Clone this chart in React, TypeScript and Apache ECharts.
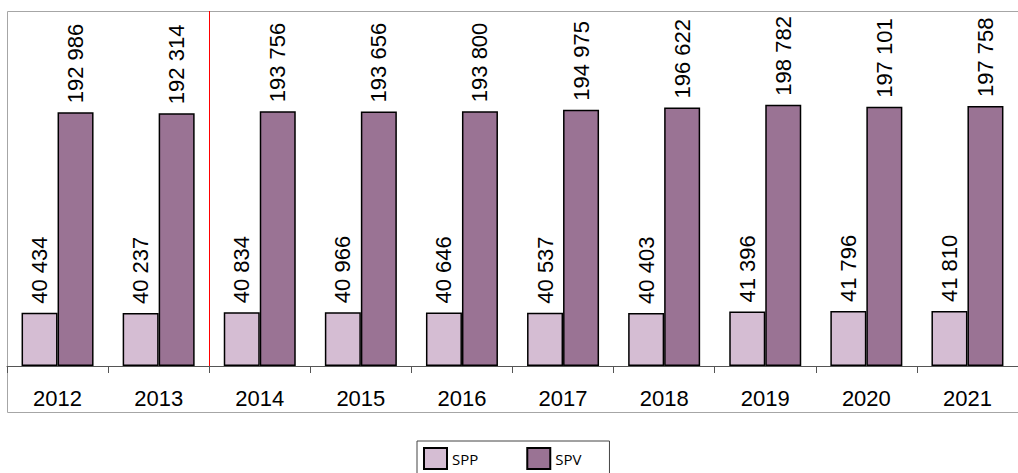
import React, { useEffect, useRef } from "react";
import * as echarts from "echarts";

const years = ["2012", "2013", "2014", "2015", "2016", "2017", "2018", "2019", "2020", "2021"];
const spp = [40434, 40237, 40834, 40966, 40646, 40537, 40403, 41396, 41796, 41810];
const spv = [192986, 192314, 193756, 193656, 193800, 194975, 196622, 198782, 197101, 197758];

const fmt = (v: number) => String(v).replace(/\B(?=(\d{3})+(?!\d))/g, " ");

export default function App() {
  const ref = useRef<HTMLDivElement>(null);
  useEffect(() => {
    const chart = echarts.init(ref.current!, null, { renderer: "svg" });
    const label = {
      show: true,
      position: "top" as const,
      rotate: 90,
      align: "left" as const,
      verticalAlign: "middle" as const,
      distance: 9,
      fontSize: 22,
      fontFamily: "Liberation Sans, Arial",
      color: "#000",
      formatter: (p: any) => fmt(p.value),
    };
    chart.setOption({
      animation: false,
      backgroundColor: "#fff",
      grid: { left: 7, top: 11, width: 1014, height: 355, containLabel: false },
      xAxis: {
        type: "category",
        data: years,
        axisLine: { show: true, lineStyle: { color: "#555", width: 1 } },
        axisTick: { show: true, length: 7, lineStyle: { color: "#555" } },
        axisLabel: { fontSize: 22, fontFamily: "Liberation Sans, Arial", color: "#000", margin: 21 },
      },
      yAxis: { type: "value", min: 0, max: 270000, show: false, splitLine: { show: false } },
      legend: {
        left: 417,
        top: 441,
        orient: "horizontal",
        itemWidth: 23,
        itemHeight: 21,
        itemGap: 48,
        padding: [6, 28, 6, 6],
        borderColor: "#444",
        borderWidth: 1,
        textStyle: { fontSize: 15, fontFamily: "Open Sans", color: "#000", fontWeight: 500 },
        data: ["SPP", "SPV"],
        icon: "rect",
      },
      graphic: [
        {
          type: "rect",
          z: 0,
          shape: { x: 7.5, y: 11.5, width: 1030, height: 401 },
          style: { fill: "none", stroke: "#a6a6a6", lineWidth: 1 },
          silent: true,
        },
        {
          type: "line",
          z: 10,
          shape: { x1: 209.5, y1: 11, x2: 209.5, y2: 366 },
          style: { stroke: "#ff0000", lineWidth: 1 },
          silent: true,
        },
      ],
      series: [
        {
          name: "SPP",
          type: "bar",
          data: spp,
          barWidth: 36,
          barGap: "0%",
          itemStyle: { color: "#d5bdd3", borderColor: "#000", borderWidth: 1.5 },
          label,
        },
        {
          name: "SPV",
          type: "bar",
          data: spv,
          barWidth: 36,
          barGap: "0%",
          itemStyle: { color: "#9a7394", borderColor: "#000", borderWidth: 1.5 },
          label,
        },
      ],
    });
    return () => chart.dispose();
  }, []);
  return <div ref={ref} style={{ position: "fixed", left: 0, top: 0, width: 1018, height: 473 }} />;
}
